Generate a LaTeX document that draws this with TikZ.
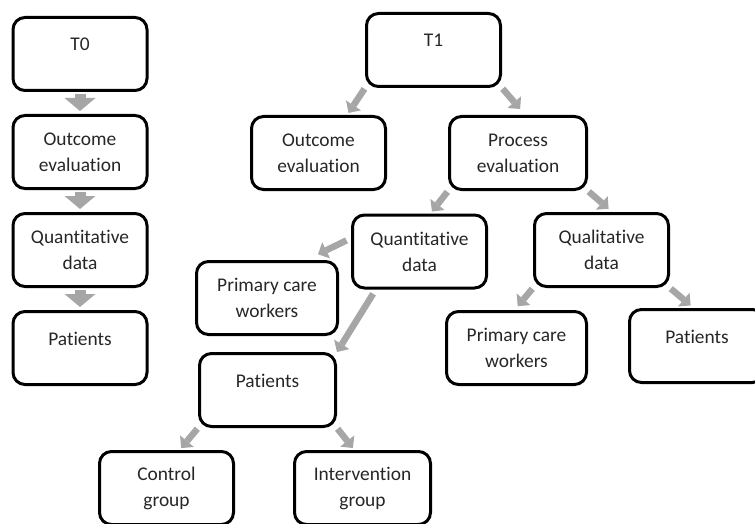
\documentclass[tikz,border=0pt]{standalone}
\usepackage{fontspec}
\setmainfont{Carlito}[Ligatures=NoCommon]
\usepackage{xcolor}
\usetikzlibrary{positioning, arrows.meta}
\definecolor{arrowgray}{HTML}{A6A6A6}

\begin{document}
\begin{tikzpicture}[x=1pt, y=-1pt, node distance=98pt, on grid,
        box/.style={draw, line width=3pt, rounded corners=12pt, minimum width=134pt,
            minimum height=73pt, align=center, inner sep=0pt, text=black!85,
            font=\fontsize{19.4}{26}\selectfont},
        oneline/.style={text depth=19pt},
        trunk/.style={color=arrowgray, line width=11pt,
            -{Triangle[length=13pt,width=31pt,line width=0pt]},
            shorten <=2pt, shorten >=3pt},
        branch/.style={color=arrowgray, line width=6.5pt,
            -{Triangle[length=9pt,width=18pt,line width=0pt]},
            shorten <=1pt, shorten >=2.5pt}]
        \useasboundingbox (0,0) rectangle (755,524);
        \clip (0,0) rectangle (755,524);

        % T0 column
        \node[box, oneline] (t0) at (80,54) {T0};
        \node[box] (oe0) [below=of t0] {Outcome\\evaluation};
        \node[box] (qd0) [below=of oe0] {Quantitative\\data};
        \node[box, oneline] (pa0) [below=of qd0] {Patients};

        % T1 tree
        \node[box, oneline] (t1) at (433.5,50) {T1};
        \node[box] (oe1) [below left=103pt and 115pt of t1] {Outcome\\evaluation};
        \node[box, minimum width=137pt] (pe) [below right=103pt and 84.5pt of t1] {Process\\evaluation};
        \node[box] (qn) [below left=98.5pt and 98.5pt of pe] {Quantitative\\data};
        \node[box] (ql) [below right=97pt and 83.5pt of pe] {Qualitative\\data};
        \node[box, minimum width=141pt] (pcw1) [below left=46.5pt and 152.5pt of qn] {Primary care\\workers};
        \node[box, oneline, minimum width=136pt] (pa1) [below left=138.5pt and 152pt of qn] {Patients};
        \node[box] (cg) [below left=98pt and 101pt of pa1] {Control\\group};
        \node[box, minimum width=136pt] (ig) [below right=98pt and 95pt of pa1] {Intervention\\group};
        \node[box, minimum width=140pt] (pcw2) [below left=98pt and 85pt of ql] {Primary care\\workers};
        \node[box, oneline, minimum width=135pt] (pa2) [below right=96pt and 95.5pt of ql] {Patients};

        \path[trunk]
        (t0) edge (oe0)
        (oe0) edge (qd0)
        (qd0) edge (pa0);

        \path[branch]
        (t1.south west) edge (oe1.53)
        (t1.south east) edge [shorten >=8pt] (pe.79)
        (pe.south west) edge (qn.74)
        (pe.south east) edge [shorten >=5pt] (ql.74)
        (qn.169) edge [shorten <=5pt, shorten >=13pt] (pcw1.44)
        (qn.221) edge [shorten <=5pt, shorten >=0pt] (pa1.north east)
        (pa1.south west) edge (cg.71)
        (pa1.south east) edge (ig.102)
        (ql.south west) edge [shorten >=5pt] (pcw2.93)
        (ql.south east) edge [shorten >=4pt] (pa2.95);

    \end{tikzpicture}
\end{document}
